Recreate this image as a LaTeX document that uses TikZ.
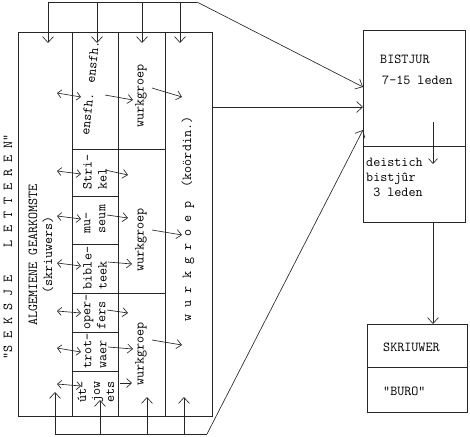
\documentclass[tikz,border=0pt]{standalone}
\usepackage{fontspec}
\usetikzlibrary{arrows.meta}
\begin{document}
\begin{tikzpicture}[x=1pt,y=-1pt,
  ln/.style={line width=0.65pt, draw=black!85},
  arr/.style={ln, -{Straight Barb[length=5pt,width=9pt]}},
  bigarr/.style={ln, -{Straight Barb[length=6pt,width=11pt]}},
  dbl/.style={ln, {Straight Barb[length=4pt,width=8pt]}-{Straight Barb[length=4pt,width=8pt]}},
  txt/.style={font=\ttfamily\fontsize{13.7}{15}\selectfont, text=black, inner sep=0pt},
  cell/.style={txt, rotate=90, align=left},
  box/.style={ln, draw, anchor=north west, inner sep=0pt}
]
\useasboundingbox (0,0) rectangle (470,436);

% ---------- big table ----------
\node[box, minimum width=194pt, minimum height=384pt] (tab) at (18,32) {};
\foreach \x in {72,118,165} \draw[ln] (\x,32) -- (\x,416);
\foreach \y in {149,196,244,293,332,371} \draw[ln] (72,\y) -- (118,\y);
\foreach \y in {149,293} \draw[ln] (118,\y) -- (165,\y);

% texts
\node[txt, rotate=90] (sek) at (8,247) {"S\ E\ K\ S\ J\ E\ \ \ \ L\ E\ T\ T\ E\ R\ E\ N"};
\node[txt, rotate=90, align=center] (alg) at (41,255) {ALGEMIENE GEARKOMSTE\\(skriuwers)};
\node[txt, rotate=84] (ens) at (90,88) {ensfh. ensfh.};
\node[cell] (str) at (95,172) {Stri-\\kel};
\node[cell] (mus) at (95,219) {mu-\\seum};
\node[cell] (bib) at (95,268) {bible-\\teek};
\node[cell] (ope) at (95,312) {oper-\\fers};
\node[cell] (tro) at (95,351) {trot-\\waer};
\node[cell, align=center, font=\ttfamily\fontsize{13.7}{14}\selectfont] (utj) at (96,392) {út-\\jow\\ets};
\node[txt, rotate=90] (w1) at (141,96) {wurkgroep};
\node[txt, rotate=90] (w2) at (141,240) {wurkgroep};
\node[txt, rotate=90] (w3) at (141,354) {wurkgroep};
\node[txt, rotate=90] (w4) at (188,219) {w\ u\ r\ k\ g\ r\ o\ e\ p\ \ (koördin.)};

% double arrows column 1 <-> column 2
\foreach \n/\ya/\yb in {a/93/97, b/171/174, c/216/219, d/263/266, e/311/313, f/348/352, g/384/386} {
  \coordinate (da\n) at (57,\ya);
  \coordinate (db\n) at (81,\yb);
  \draw[dbl] (da\n) -- (db\n);
}
% column 2 -> column 3
\foreach \n/\xa/\ya/\xb/\yb in {a/105/95/133/100, b/105/170/128/175, c/107/215/128/218, d/108/262/132/264, e/107/310/128/313, f/108/347/133/349, g/120/383/132/383} {
  \coordinate (ca\n) at (\xa,\ya);
  \coordinate (cb\n) at (\xb,\yb);
  \draw[arr] (ca\n) -- (cb\n);
}
% column 3 -> column 4
\foreach \n/\ya/\yb in {a/88/97, b/230/235, c/340/345} {
  \coordinate (ea\n) at (152,\ya);
  \coordinate (eb\n) at (182,\yb);
  \draw[arr] (ea\n) -- (eb\n);
}

% ---------- BISTJUR ----------
\node[box, minimum width=102pt, minimum height=116pt] (bistU) at (363,30) {};
\node[box, minimum width=102pt, minimum height=76pt] (bistL) at (363,146) {};
\node[txt, anchor=west] (bt1) at (380,59) {BISTJUR};
\node[txt, anchor=west] (bt2) at (382,80) {7-15 leden};
\node[txt, anchor=north west, align=left] (bt3) at (366,158) {deistich\\bistjûr\\\ 3 leden};
\coordinate (bi1) at (433,122);
\coordinate (bi2) at (433,164);
\draw[arr] (bi1) -- (bi2);

% ---------- SKRIUWER ----------
\node[box, minimum width=100pt, minimum height=43pt] (skr) at (367,324) {};
\node[box, minimum width=100pt, minimum height=45pt] (buro) at (367,367) {};
\node[txt, anchor=west] (st1) at (383,347) {SKRIUWER};
\node[txt, anchor=west] (st2) at (383,391) {"BURO"};
\coordinate (sa) at (433,222);
\coordinate (sb) at (433,324);
\draw[bigarr] (sa) -- (sb);

% ---------- top bracket ----------
\coordinate (tl) at (48,2);
\coordinate (tr) at (197,2);
\draw[ln] (tl) -- (tr);
\foreach \n/\x in {a/48,b/97,c/142,d/180} {
  \coordinate (ta\n) at (\x,2);
  \coordinate (tb\n) at (\x,43);
  \draw[bigarr] (ta\n) -- (tb\n);
}
\coordinate (bin1) at (363,87);
\draw[bigarr] (tr) -- (bin1);

% horizontal arrow
\coordinate (hA) at (213,107);
\coordinate (hB) at (363,107);
\draw[bigarr] (hA) -- (hB);

% ---------- bottom bracket ----------
\coordinate (bl) at (55,434);
\coordinate (br) at (207,434);
\draw[ln] (bl) -- (br);
\foreach \n/\x/\y in {a/55/392,b/100/400,c/147/397,d/184/397} {
  \coordinate (ua\n) at (\x,434);
  \coordinate (ub\n) at (\x,\y);
  \draw[bigarr] (ua\n) -- (ub\n);
}
\coordinate (bin2) at (363,130);
\draw[bigarr] (br) -- (bin2);
\end{tikzpicture}
\end{document}
